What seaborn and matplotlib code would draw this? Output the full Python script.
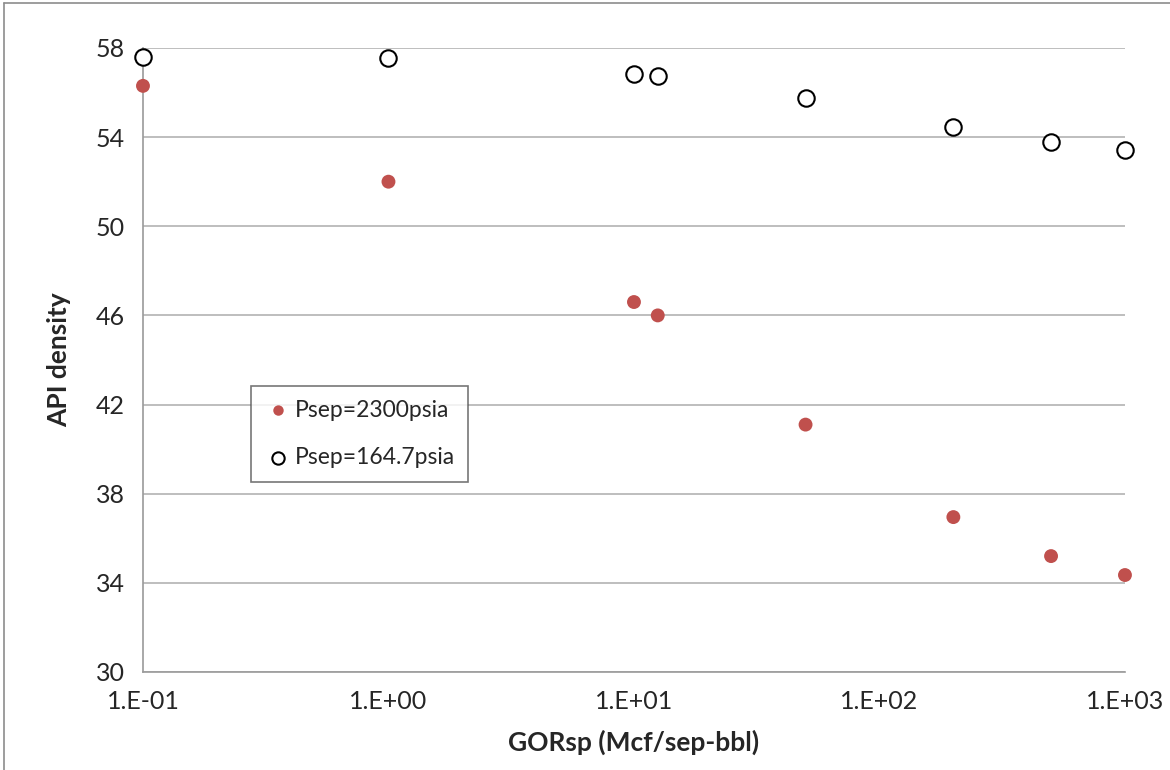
import matplotlib
matplotlib.use("Agg")
import matplotlib.pyplot as plt
import seaborn as sns
import numpy as np
from matplotlib.lines import Line2D
from matplotlib.ticker import FixedLocator, FixedFormatter, NullLocator

# data
gor = [0.1, 1.0, 10.0, 12.5, 50.0, 200.0, 500.0, 1000.0]
api_2300 = [56.3, 52.0, 46.6, 46.0, 41.1, 36.95, 35.2, 34.35]
api_164 = [57.6, 57.55, 56.85, 56.75, 55.75, 54.45, 53.8, 53.4]
x_ticks = [0.1, 1, 10, 100, 1000]
x_labels = ["1.E-01", "1.E+00", "1.E+01", "1.E+02", "1.E+03"]
y_ticks = [30, 34, 38, 42, 46, 50, 54, 58]

sns.set_style("white")
plt.rcParams['font.family'] = ['Lato', 'DejaVu Sans']

fig = plt.figure(figsize=(11.7, 7.7), dpi=100)
ax = fig.add_axes([0.1222, 0.1273, 0.8393, 0.8104])

grid_col = "#b3b3b3"
sns.scatterplot(x=gor, y=api_2300, ax=ax, color="#c0504d", s=100,
                edgecolor="none", label="Psep=2300psia", zorder=3, clip_on=False)
sns.scatterplot(x=gor, y=api_164, ax=ax, facecolor="white", edgecolor="black",
                linewidth=1.5, s=140, label="Psep=164.7psia", zorder=3, clip_on=False)

ax.set_xscale("log")
ax.set_xlim(0.1, 1000)
ax.set_ylim(30, 58)
ax.xaxis.set_major_locator(FixedLocator(x_ticks))
ax.xaxis.set_major_formatter(FixedFormatter(x_labels))
ax.xaxis.set_minor_locator(NullLocator())
ax.set_yticks(y_ticks)

ax.grid(axis="y", color=grid_col, linewidth=1.2)
ax.set_axisbelow(True)
for side in ["top", "right"]:
    ax.spines[side].set_visible(False)
for side in ["left", "bottom"]:
    ax.spines[side].set_color("#9a9a9a")
    ax.spines[side].set_linewidth(1.2)
ax.tick_params(axis="both", direction="out", length=7, width=1.2,
               color="#9a9a9a", labelsize=18, pad=6)
ax.tick_params(axis="y", color=grid_col)

ax.set_xlabel("GORsp (Mcf/sep-bbl)", fontsize=19, fontweight="bold", labelpad=12)
ax.set_ylabel("API density", fontsize=19, fontweight="bold", labelpad=18)

leg = ax.legend(loc="lower left", bbox_to_anchor=(0.11, 0.305), borderaxespad=0,
                fontsize=16.5, frameon=True, fancybox=False, handletextpad=0.1,
                borderpad=0.6, labelspacing=1.15, markerscale=0.75, handlelength=1.2)
leg.get_frame().set_edgecolor("#555555")
leg.get_frame().set_linewidth(1.2)

# outer chart frame
fig.add_artist(Line2D([4 / 1170, 4 / 1170], [0, 1 - 3 / 770], transform=fig.transFigure,
                      color="#8c8c8c", linewidth=1.2))
fig.add_artist(Line2D([4 / 1170, 1], [1 - 3 / 770, 1 - 3 / 770], transform=fig.transFigure,
                      color="#8c8c8c", linewidth=1.2))

fig.savefig("out.png", dpi=100)
